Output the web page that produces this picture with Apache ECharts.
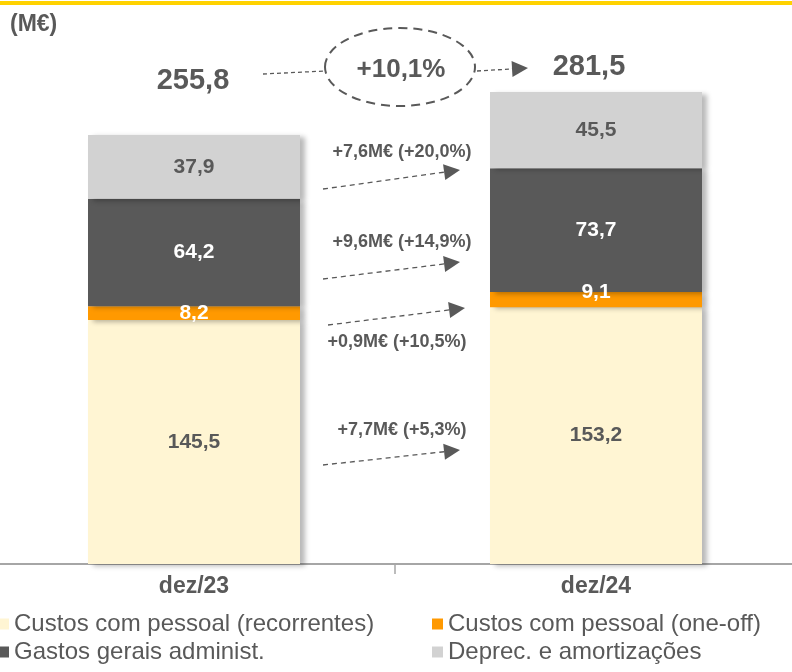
<!DOCTYPE html>
<html>
<head>
<meta charset="utf-8">
<script src="https://cdn.jsdelivr.net/npm/echarts@6/dist/echarts.min.js"></script>
<style>
html,body{margin:0;padding:0;background:#fff;}
#chart{width:792px;height:672px;}
</style>
</head>
<body>
<div id="chart"></div>
<script>
// ---- data ----
var categories = ['dez/23', 'dez/24'];
var seriesNames = ['Custos com pessoal (recorrentes)', 'Custos com pessoal (one-off)', 'Gastos gerais administ.', 'Deprec. e amortizações'];
var recorrentes = [145.5, 153.2];
var oneOff = [8.2, 9.1];
var gastosGerais = [64.2, 73.7];
var deprec = [37.9, 45.5];
var totals = ['255,8', '281,5'];
var totalGrowth = '+10,1%';
var deltaLabels = ['+7,6M€ (+20,0%)', '+9,6M€ (+14,9%)', '+0,9M€ (+10,5%)', '+7,7M€ (+5,3%)'];

var FONT = "'Liberation Sans', Arial, sans-serif";
var TXT = '#595959';
var colors = ['#FFF5D3', '#FF9900', '#595959', '#D2D2D2'];
var labelColors = ['#595959', '#ffffff', '#ffffff', '#595959'];

function fmt(p) { return Number(p.value).toFixed(1).replace('.', ','); }

function makeSeries(idx, values, dataMapper) {
  return {
    name: seriesNames[idx],
    type: 'bar',
    stack: 'total',
    barWidth: 212,
    data: dataMapper ? values.map(dataMapper) : values,
    itemStyle: {
      color: colors[idx],
      shadowColor: 'rgba(0,0,0,0.28)',
      shadowBlur: 5,
      shadowOffsetX: 5,
      shadowOffsetY: 2
    },
    label: {
      show: true,
      position: 'inside',
      formatter: fmt,
      color: labelColors[idx],
      fontFamily: FONT,
      fontWeight: 'bold',
      fontSize: 21
    },
    emphasis: { disabled: true },
    z: 2
  };
}

function arrow(x1, y1, x2, y2, head, half, lw, dash) {
  var dx = x2 - x1, dy = y2 - y1;
  var L = Math.sqrt(dx * dx + dy * dy);
  var ux = dx / L, uy = dy / L;
  var bx = x2 - ux * head, by = y2 - uy * head;
  var px = -uy, py = ux;
  return [
    { type: 'line', shape: { x1: x1, y1: y1, x2: bx, y2: by },
      style: { stroke: TXT, lineWidth: lw, lineDash: dash, fill: null }, z: 10 },
    { type: 'polygon', shape: { points: [[x2, y2], [bx + px * half, by + py * half], [bx - px * half, by - py * half]] },
      style: { fill: TXT, stroke: null }, z: 10 }
  ];
}

function txt(x, y, s, size) {
  return { type: 'text', x: x, y: y, z: 10,
    style: { text: s, fill: TXT, font: 'bold ' + size + 'px ' + FONT, textAlign: 'center', textVerticalAlign: 'middle' } };
}

var graphics = [];
graphics.push({ type: 'rect', shape: { x: 0, y: 1, width: 792, height: 4 }, style: { fill: '#FFD200' }, z: 10 });
graphics.push({ type: 'text', x: 10, y: 25, z: 10,
  style: { text: '(M€)', fill: TXT, font: 'bold 23px ' + FONT, textAlign: 'left', textVerticalAlign: 'middle' } });
graphics.push(txt(193, 81, totals[0], 29));
graphics.push(txt(589, 67, totals[1], 29));
graphics.push({ type: 'ellipse', shape: { cx: 400, cy: 67, rx: 75, ry: 39 },
  style: { stroke: TXT, lineWidth: 2, lineDash: [9, 6], fill: null }, z: 10 });
graphics.push(txt(401, 70, totalGrowth, 26));
graphics.push({ type: 'line', shape: { x1: 263, y1: 74, x2: 325, y2: 71 },
  style: { stroke: TXT, lineWidth: 1.3, lineDash: [4, 3] }, z: 10 });
graphics = graphics.concat(arrow(477, 71, 528, 68, 16, 8, 1.3, [4, 3]));
graphics = graphics.concat(arrow(323, 189, 460, 170, 16, 8, 1.3, [5, 4]));
graphics = graphics.concat(arrow(323, 279, 460, 262, 16, 8, 1.3, [5, 4]));
graphics = graphics.concat(arrow(328, 325, 465, 308, 16, 8, 1.3, [5, 4]));
graphics = graphics.concat(arrow(323, 465, 460, 450, 16, 8, 1.3, [5, 4]));
graphics.push(txt(402, 152, deltaLabels[0], 18));
graphics.push(txt(402, 242, deltaLabels[1], 18));
graphics.push(txt(397, 342, deltaLabels[2], 18));
graphics.push(txt(402, 430, deltaLabels[3], 18));

function legendAt(name, left, top) {
  return {
    orient: 'horizontal',
    left: left,
    top: top,
    padding: 0,
    icon: 'rect',
    itemWidth: 11,
    itemHeight: 11,
    selectedMode: false,
    data: [name],
    textStyle: { color: TXT, fontFamily: FONT, fontSize: 24, lineHeight: 28 }
  };
}

var option = {
  animation: false,
  backgroundColor: '#ffffff',
  grid: { left: -7, right: -5, top: 61, bottom: 108, containLabel: false, outerBoundsMode: 'none' },
  legend: [
    legendAt(seriesNames[0], -2, 610),
    legendAt(seriesNames[1], 432, 610),
    legendAt(seriesNames[2], -2, 638),
    legendAt(seriesNames[3], 432, 638)
  ],
  xAxis: {
    type: 'category',
    data: categories,
    axisLine: { lineStyle: { color: '#A6A6A6', width: 2 } },
    axisTick: { show: true, length: 10, lineStyle: { color: '#A6A6A6', width: 1.5 } },
    axisLabel: { color: TXT, fontFamily: FONT, fontWeight: 'bold', fontSize: 23, margin: 11 }
  },
  yAxis: { type: 'value', min: 0, max: 300, show: false, splitLine: { show: false } },
  series: [
    makeSeries(0, recorrentes),
    makeSeries(1, oneOff, function (v, i) { return i === 1 ? { value: v, label: { offset: [0, -7] } } : v; }),
    makeSeries(2, gastosGerais),
    makeSeries(3, deprec)
  ],
  graphic: graphics
};

var chart = echarts.init(document.getElementById('chart'));
chart.setOption(option);
</script>
</body>
</html>
